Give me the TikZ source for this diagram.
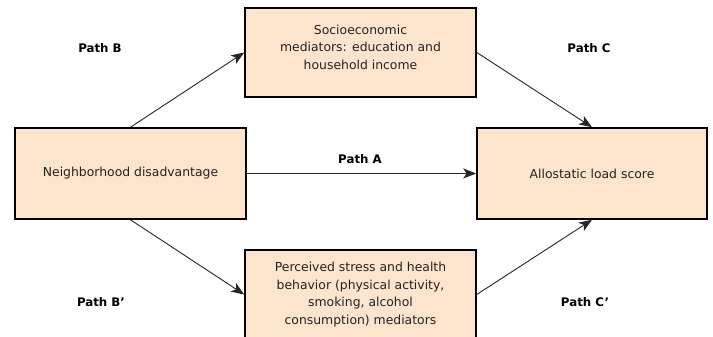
\documentclass[tikz,border=0pt]{standalone}
\usepackage{fontspec}
\setmainfont{DejaVu Sans}
\usetikzlibrary{arrows.meta}
\definecolor{boxfill}{RGB}{253,229,205}
\definecolor{inkgray}{RGB}{35,35,35}
\begin{document}
\begin{tikzpicture}[x=1pt,y=-1pt,
  mediator/.style={draw=black, line width=1.6pt, fill=boxfill, align=center,
    text=inkgray, inner sep=4pt, font=\fontsize{12.4}{17.5}\selectfont},
  pathlabel/.style={font=\bfseries\fontsize{11.8}{14}\selectfont, text=black},
  link/.style={draw=black!85, line width=0.9pt,
    -{Stealth[length=13pt,width=10pt,inset=3.5pt]}}]
  \useasboundingbox (0,0) rectangle (713,337);
  % boxes
  \node[mediator, minimum width=231, minimum height=91] (nbhd) at (130.5,173.5)
    {Neighborhood disadvantage};
  % extra depth below the three lines lifts them a little inside the box
  \node[mediator, minimum width=231, minimum height=89] (socio) at (360.5,52.5)
    {\raisebox{0pt}[\height][\dimexpr\depth+8pt\relax]{\begin{tabular}{@{}c@{}}Socioeconomic\\ mediators: education and\\ household income\end{tabular}}};
  \node[mediator, minimum width=230, minimum height=91] (alload) at (592,173.5)
    {Allostatic load score};
  \node[mediator, minimum width=231, minimum height=89] (stress) at (360.5,294.5)
    {Perceived stress and health\\ behavior (physical activity,\\ smoking, alcohol\\ consumption) mediators};
  % connectors
  \draw[link] (nbhd.north) -- (socio.west);
  \draw[link] (socio.east) -- (alload.north);
  \draw[link] (nbhd.east) -- (alload.west);
  \draw[link] (nbhd.south) -- (stress.west);
  \draw[link] (stress.east) -- (alload.south);
  % path labels
  \node[pathlabel] (pb) at (100,48) {Path B};
  \node[pathlabel] (pc) at (589,48) {Path C};
  \node[pathlabel] (pa) at (360,159) {Path A};
  \node[pathlabel] (pbp) at (101,302) {Path B’};
  \node[pathlabel] (pcp) at (585,302) {Path C’};
\end{tikzpicture}
\end{document}
